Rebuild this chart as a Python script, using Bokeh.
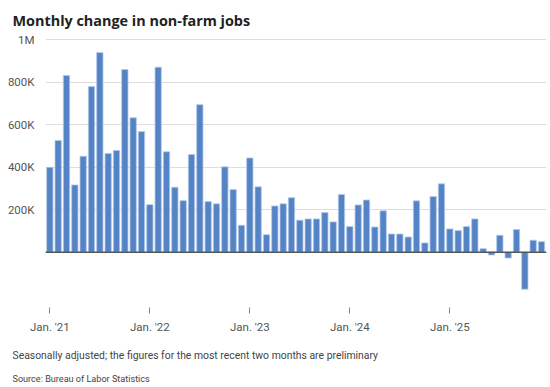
from bokeh.plotting import figure
from bokeh.models import FixedTicker, Span, Title, ColumnDataSource
from bokeh.embed import file_html
from bokeh.resources import INLINE

# Monthly change in non-farm payrolls, thousands, Jan 2021 .. Dec 2025
months = list(range(60))
values_k = [
    400, 526, 832, 317, 452, 780, 940, 465, 479, 860, 633, 568,   # 2021
    224, 871, 473, 306, 243, 460, 695, 239, 228, 402, 295, 127,   # 2022
    444, 308, 83, 218, 228, 257, 151, 157, 157, 187, 143, 272,    # 2023
    121, 223, 246, 119, 195, 86, 86, 72, 242, 44, 262, 322,       # 2024
    110, 102, 121, 157, 17, -13, 80, -27, 107, -174, 57, 50,      # 2025
]
values = [v * 1000 for v in values_k]

y_ticks = [200000, 400000, 600000, 800000, 1000000]
y_labels = ["200K", "400K", "600K", "800K", "1M"]
x_ticks = [0, 12, 24, 36, 48]
x_labels = ["Jan. '21", "Jan. '22", "Jan. '23", "Jan. '24", "Jan. '25"]

title_text = "Monthly change in non-farm jobs"
note_text = "Seasonally adjusted; the figures for the most recent two months are preliminary"
source_text = "Source: Bureau of Labor Statistics"

FONT = "Roboto"

src = ColumnDataSource(dict(x=months, top=values))

p = figure(frame_width=501, frame_height=270, output_backend="svg", toolbar_location=None,
           x_range=(-0.52, 59.6), y_range=(-260000, 1011000),
           min_border_left=45, min_border_right=2, min_border_top=0, min_border_bottom=0)
p.outline_line_color = None
p.background_fill_color = "white"
p.border_fill_color = "white"

p.vbar(x="x", top="top", bottom=0, width=0.76, source=src,
       fill_color="#5584c6", line_color="#b4c9e8", line_width=0.8)

p.add_layout(Span(location=0, dimension="width", line_color="#555555", line_width=1.5))

# Title
p.title.text = title_text
p.title.text_font = "Open Sans"
p.title.text_font_size = "14.4px"
p.title.text_font_style = "bold"
p.title.text_color = "#222222"
p.title.offset = -33
p.title.standoff = 16

# y axis
p.yaxis.ticker = FixedTicker(ticks=y_ticks)
p.yaxis.major_label_overrides = {t: l for t, l in zip(y_ticks, y_labels)}
p.yaxis.axis_line_color = None
p.yaxis.major_tick_line_color = None
p.yaxis.minor_tick_line_color = None
p.yaxis.major_label_text_font = FONT
p.yaxis.major_label_text_font_size = "11.5px"
p.yaxis.major_label_text_color = "#555555"
p.yaxis.major_label_standoff = 5
p.ygrid.ticker = FixedTicker(ticks=y_ticks)
p.ygrid.grid_line_color = "#dddddd"
p.ygrid.grid_line_width = 1

# x axis
p.xaxis.ticker = FixedTicker(ticks=x_ticks)
p.xaxis.major_label_overrides = {t: l for t, l in zip(x_ticks, x_labels)}
p.xaxis.axis_line_color = None
p.xaxis.major_tick_line_color = "#888888"
p.xaxis.major_tick_out = 6
p.xaxis.major_tick_in = 0
p.xaxis.minor_tick_line_color = None
p.xaxis.major_label_text_font = FONT
p.xaxis.major_label_text_font_size = "11.5px"
p.xaxis.major_label_text_color = "#555555"
p.xaxis.major_label_standoff = 6
p.xgrid.grid_line_color = None

note = Title(text=note_text, text_font=FONT, text_font_size="10.4px",
             text_font_style="normal", text_color="#444444", offset=-33, standoff=20)
source = Title(text=source_text, text_font=FONT, text_font_size="9.1px",
               text_font_style="normal", text_color="#444444", offset=-33, standoff=0)
p.add_layout(note, "below")
p.add_layout(source, "below")

open("out.html", "w").write(file_html(p, INLINE))
